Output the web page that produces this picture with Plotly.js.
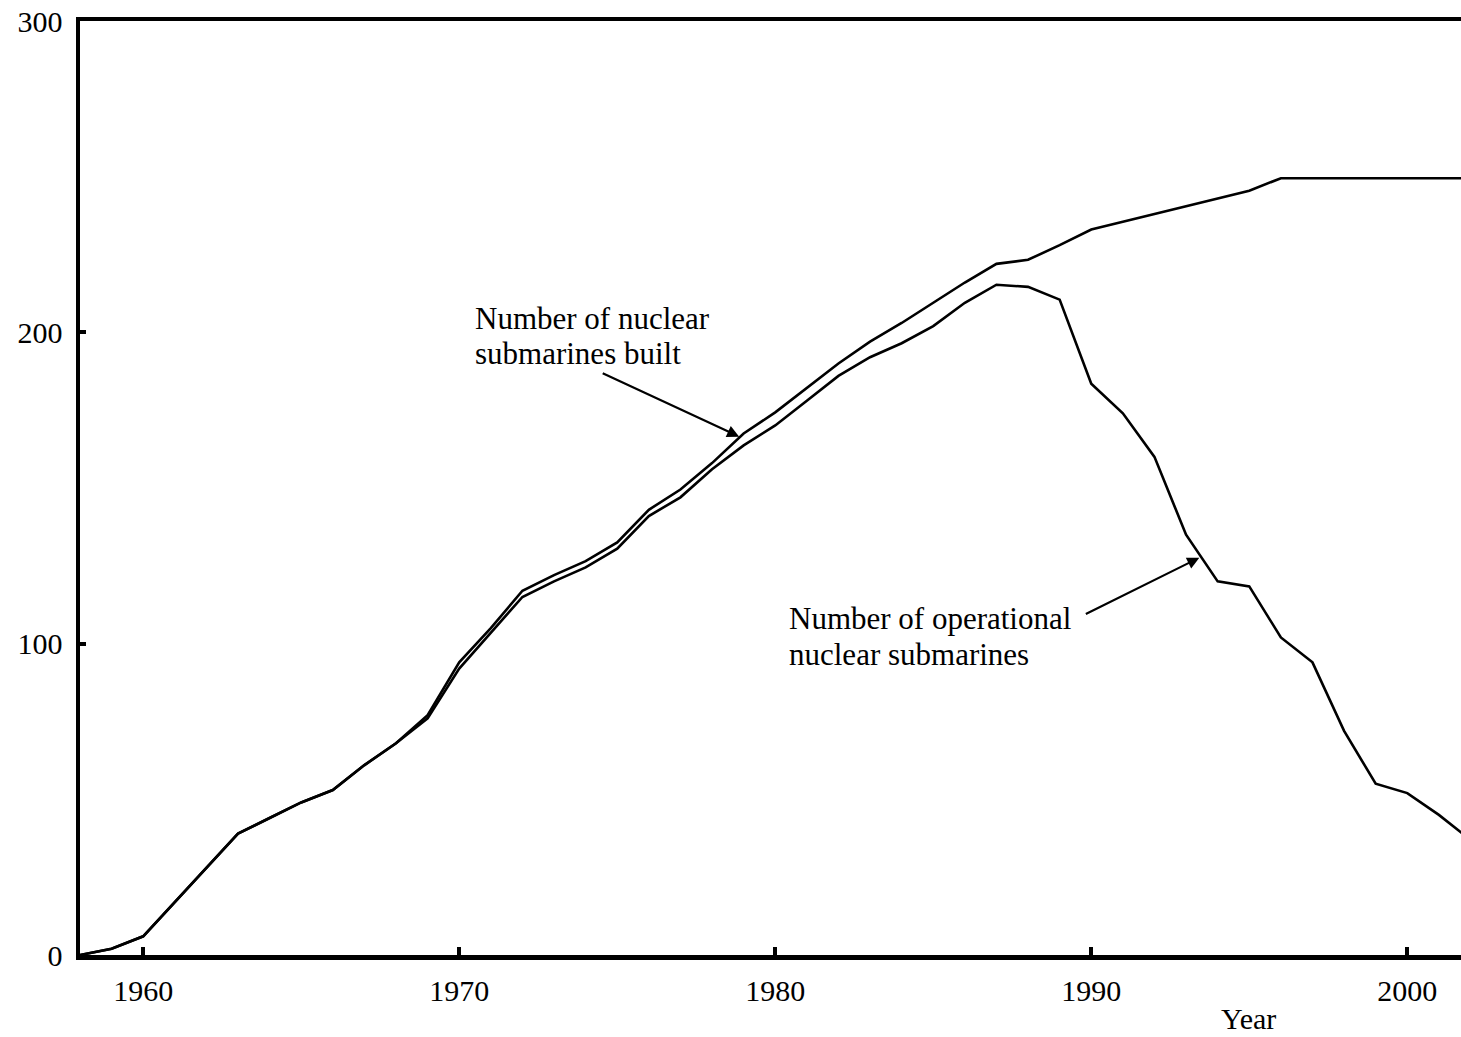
<!DOCTYPE html>
<html>
<head>
<meta charset="utf-8">
<script src="https://cdn.plot.ly/plotly-3.0.1.min.js"></script>
<style>
  html, body { margin: 0; padding: 0; background: #fff; overflow: hidden; }
  #chart { width: 1461px; height: 1037px; }
</style>
</head>
<body>
<div id="chart"></div>
<script>
const years = [1958,1959,1960,1961,1962,1963,1964,1965,1966,1967,1968,1969,1970,1971,1972,1973,1974,1975,1976,1977,1978,1979,1980,1981,1982,1983,1984,1985,1986,1987,1988,1989,1990,1991,1992,1993,1994,1995,1996,1997,1998,1999,2000,2001,2002];

const builtTotal = [0,2,6,17,28,39,44,49,53,61,68,77,94,105,117,122,126.5,132.5,143,149.5,158,167.5,174.3,182,190,197,203,209.5,216,222,223.3,228,233,235.5,238,240.5,243,245.5,249.5,249.5,249.5,249.5,249.5,249.5,249.5];

const operational = [0,2,6,17,28,39,44,49,53,61,68,76,92,103.5,115,120,124.5,130.5,141,147,156,163.7,170.1,178,186,192,196.5,202,209.5,215.3,214.6,210.5,183.5,174,160,135,120,118.4,102,94,72,55,52,45,37];

const xTickVals = [1960,1970,1980,1990,2000];
const xTickText = ["1960","1970","1980","1990","2000"];
const yTickVals = [0,100,200,300];
const yTickText = ["0","100","200","300"];

const builtLabel = ["Number of nuclear", "submarines built"];
const operLabel = ["Number of operational", "nuclear submarines"];
const xTitle = "Year";

const FONT = "'Liberation Serif', 'Times New Roman', serif";

const traces = [
  { x: years, y: builtTotal, type: "scatter", mode: "lines", name: "built",
    line: { color: "#000", width: 2.6 }, hoverinfo: "x+y" },
  { x: years, y: operational, type: "scatter", mode: "lines", name: "operational",
    line: { color: "#000", width: 2.6 }, hoverinfo: "x+y" }
];

const txt = (t, x, y) => ({
  text: t, x: x, y: y, xref: "x", yref: "y", showarrow: false,
  xanchor: "left", yanchor: "middle", align: "left",
  font: { family: FONT, size: 31, color: "#000" }
});

const annotations = [
  txt(builtLabel[0], 1970.44, 204.5),
  txt(builtLabel[1], 1970.44, 193.2),
  txt(operLabel[0], 1980.38, 108.2),
  txt(operLabel[1], 1980.38, 96.6),
  { text: "", x: 1978.86, y: 166.5, xref: "x", yref: "y", showarrow: true,
    ax: -138, ay: -64, arrowhead: 2, arrowsize: 1.1, arrowwidth: 2.2, arrowcolor: "#000" },
  { text: "", x: 1993.42, y: 127.6, xref: "x", yref: "y", showarrow: true,
    ax: -115, ay: 57, arrowhead: 2, arrowsize: 1.1, arrowwidth: 2.2, arrowcolor: "#000" },
  { text: xTitle, x: 0.8458, y: -0.0675, xref: "paper", yref: "paper", showarrow: false,
    xanchor: "center", yanchor: "middle",
    font: { family: FONT, size: 30, color: "#000" } }
];

const layout = {
  width: 1461, height: 1037,
  margin: { l: 80, r: 0, t: 21, b: 82 },
  paper_bgcolor: "#fff", plot_bgcolor: "#fff",
  showlegend: false,
  font: { family: FONT, size: 30, color: "#000" },
  xaxis: {
    range: [1958, 2001.7], showgrid: false, zeroline: false,
    showline: true, linewidth: 4.5, linecolor: "#000", mirror: true,
    ticks: "inside", ticklen: 8, tickwidth: 4, tickcolor: "#000",
    tickvals: xTickVals, ticktext: xTickText, ticklabelstandoff: 5,
    tickfont: { family: FONT, size: 30, color: "#000" }
  },
  yaxis: {
    range: [0, 300], showgrid: false, zeroline: false,
    showline: true, linewidth: 4.5, linecolor: "#000", mirror: false,
    ticks: "inside", ticklen: 6, tickwidth: 4, tickcolor: "#000",
    tickvals: yTickVals, ticktext: yTickText, ticklabelstandoff: 7,
    tickfont: { family: FONT, size: 30, color: "#000" }
  },
  annotations: annotations
};

Plotly.newPlot("chart", traces, layout, { displayModeBar: false, staticPlot: true });
</script>
</body>
</html>
